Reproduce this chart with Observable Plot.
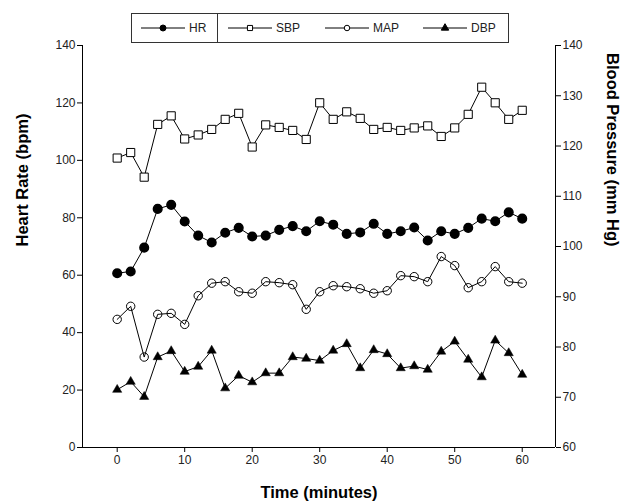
<!DOCTYPE html>
<html>
<head>
<meta charset="utf-8">
<script src="https://cdn.jsdelivr.net/npm/d3@7"></script>
<script src="https://cdn.jsdelivr.net/npm/@observablehq/plot@0.6"></script>
<style>
  html, body { margin: 0; padding: 0; background: #fff; }
  #wrap { position: relative; width: 634px; height: 503px; font-family: "Liberation Sans", Arial, sans-serif; }
  #legend { position: absolute; left: 131px; top: 13px; width: 378px; height: 30px; border: 1px solid #333; box-sizing: border-box; background: #fff; }
  #legend svg { display: block; }
</style>
</head>
<body>
<div id="wrap"><div id="chart"></div><div id="legend"></div></div>
<script>
const time = [0,2,4,6,8,10,12,14,16,18,20,22,24,26,28,30,32,34,36,38,40,42,44,46,48,50,52,54,56,58,60];
const hr  = [60.7,61.3,69.6,83.1,84.5,78.7,73.8,71.4,74.8,76.5,73.5,73.8,75.8,77.1,75.3,78.8,77.6,74.4,74.9,77.9,74.4,75.3,76.6,72.1,75.3,74.4,76.5,79.7,78.8,81.9,79.7];
const sbp = [117.6,118.7,113.8,124.3,126.0,121.4,122.2,123.3,125.3,126.5,119.8,124.2,123.7,123.1,121.3,128.6,125.3,126.8,125.5,123.3,123.7,123.1,123.6,124.0,121.9,123.6,126.3,131.7,128.6,125.3,127.1];
const map = [85.5,88.1,78.0,86.5,86.7,84.5,90.2,92.7,93.0,91.0,90.7,93.0,92.8,92.4,87.5,91.0,92.2,92.0,91.6,90.7,91.2,94.2,94.0,93.0,98.0,96.2,91.8,93.0,96.0,93.0,92.7];
const dbp = [71.5,73.1,70.1,78.0,79.2,75.1,76.1,79.3,71.8,74.3,73.0,74.8,74.8,78.0,77.7,77.3,79.3,80.6,75.8,79.4,78.6,75.8,76.2,75.5,79.1,81.1,77.5,74.0,81.3,78.8,74.5];
const xTicks = [0,10,20,30,40,50,60];
const hrTicks = [0,20,40,60,80,100,120,140];
const bpTicks = [60,70,80,90,100,110,120,130,140];
const seriesNames = ["HR","SBP","MAP","DBP"];

// map blood pressure (60–140) onto heart-rate axis (0–140)
const bp2y = v => (v - 60) * 140 / 80;

const hrData = time.map((t, i) => ({t, y: hr[i]}));
const sbpData = time.map((t, i) => ({t, y: bp2y(sbp[i])}));
const mapData = time.map((t, i) => ({t, y: bp2y(map[i])}));
const dbpData = time.map((t, i) => ({t, y: bp2y(dbp[i])}));

const font = "Liberation Sans, Arial, sans-serif";
const lineOpts = {x: "t", y: "y", stroke: "#000", strokeWidth: 1};

const chart = Plot.plot({
  width: 634,
  height: 503,
  marginLeft: 82,
  marginRight: 79,
  marginTop: 45,
  marginBottom: 56,
  style: {fontFamily: font, fontSize: "12px", color: "#000", background: "#fff"},
  x: {domain: [-5.14, 64.93]},
  y: {domain: [0, 140]},
  marks: [
    Plot.ruleX([-5.14], {stroke: "#000"}),
    Plot.ruleX([64.93], {stroke: "#000"}),
    Plot.ruleY([0], {stroke: "#000"}),
    Plot.axisX({ticks: xTicks, tickSize: 5, tickPadding: 3, label: null, fontSize: 12, fill: "#222"}),
    Plot.axisY({anchor: "left", ticks: hrTicks, tickSize: 5, tickPadding: 2, label: null, fontSize: 12, fill: "#222"}),
    Plot.axisY({anchor: "right", ticks: bpTicks.map(bp2y), tickFormat: d => Math.round(d * 80 / 140 + 60), tickSize: 5, tickPadding: 2, label: null, fontSize: 12, fill: "#222"}),
    Plot.text(["Heart Rate (bpm)"], {frameAnchor: "left", dx: -60, rotate: -90, fontWeight: "bold", fontSize: 16.5}),
    Plot.text(["Blood Pressure (mm Hg)"], {frameAnchor: "right", dx: 57, rotate: 90, fontWeight: "bold", fontSize: 16.5}),
    Plot.text(["Time (minutes)"], {frameAnchor: "bottom", dy: 50, fontWeight: "bold", fontSize: 16.5}),
    Plot.line(sbpData, lineOpts),
    Plot.line(hrData, lineOpts),
    Plot.line(mapData, lineOpts),
    Plot.line(dbpData, lineOpts),
    Plot.dot(sbpData, {x: "t", y: "y", symbol: "square", r: 4.6, fill: "#fff", stroke: "#000", strokeWidth: 1}),
    Plot.dot(hrData, {x: "t", y: "y", symbol: "circle", r: 4.3, fill: "#000", stroke: "#000"}),
    Plot.dot(mapData, {x: "t", y: "y", symbol: "circle", r: 4.2, fill: "none", stroke: "#000", strokeWidth: 1}),
    Plot.dot(dbpData, {x: "t", y: "y", symbol: "triangle", r: 3.4, fill: "#000", stroke: "#000", strokeWidth: 0.5})
  ]
});
document.getElementById("chart").appendChild(chart);

// legend
const leg = d3.select("#legend").append("svg").attr("width", 376).attr("height", 28);
const items = [
  {name: seriesNames[0], x0: 9, sym: d3.symbolCircle, fill: "#000", size: 28},
  {name: seriesNames[1], x0: 96, sym: d3.symbolSquare, fill: "#fff", size: 26},
  {name: seriesNames[2], x0: 193, sym: d3.symbolCircle, fill: "#fff", size: 24},
  {name: seriesNames[3], x0: 291, sym: d3.symbolTriangle, fill: "#000", size: 24}
];
const cy = 14;
items.forEach(it => {
  leg.append("line").attr("x1", it.x0).attr("x2", it.x0 + 44).attr("y1", cy).attr("y2", cy).attr("stroke", "#000");
  leg.append("path").attr("d", d3.symbol(it.sym, it.size)()).attr("transform", `translate(${it.x0 + 22},${cy})`)
    .attr("fill", it.fill).attr("stroke", "#000");
  leg.append("text").attr("x", it.x0 + 48).attr("y", cy).attr("dy", "0.35em")
    .attr("font-family", font).attr("font-size", 12).attr("fill", "#222").text(it.name);
});
leg.append("line").attr("x1", 85.5).attr("x2", 85.5).attr("y1", 0).attr("y2", 28).attr("stroke", "#333");
</script>
</body>
</html>
